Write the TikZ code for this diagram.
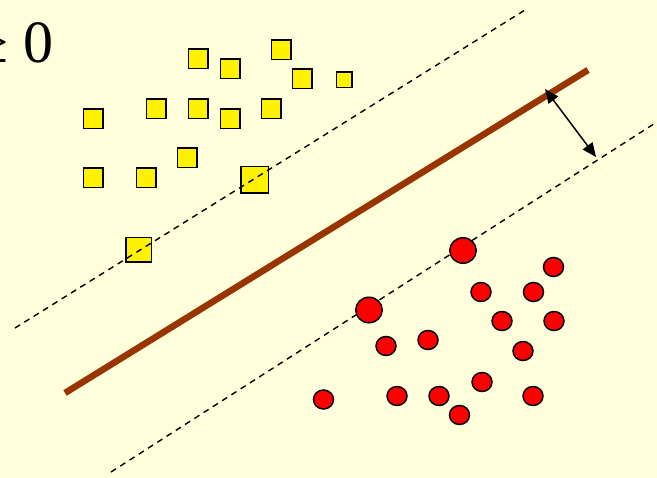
\documentclass[tikz,border=0pt]{standalone}
\usepackage{fontspec}
\setmainfont{Liberation Serif}
\usetikzlibrary{arrows.meta,shapes.geometric}
\definecolor{bg}{HTML}{FFFFDC}
\definecolor{brownline}{HTML}{993300}
\begin{document}
\begin{tikzpicture}[x=1pt,y=-1pt,
  sq/.style={rectangle,draw=black,fill=yellow,line width=1.5pt,inner sep=0pt,minimum size=19.5pt},
  smallsq/.style={sq,minimum size=15.5pt},
  bigsq/.style={sq,minimum width=27.5pt,minimum height=26.5pt},
  dot/.style={ellipse,draw=black,fill=red,line width=1.5pt,inner sep=0pt,minimum width=20pt,minimum height=19pt},
  bigdot/.style={dot,minimum width=26.5pt,minimum height=25.5pt},
  margin/.style={dash pattern=on 6pt off 5pt,line width=1.4pt,black},
  hyper/.style={line width=6.5pt,brownline},
  gap/.style={line width=1.5pt,{Triangle[length=14pt,width=12pt]}-{Triangle[length=14pt,width=12pt]}}]
\useasboundingbox (0,0) rectangle (657,478);
\fill[bg] (0,0) rectangle (657,478);
\clip (0,0) rectangle (657,478);

% text
\node[anchor=base east,inner sep=0pt,font=\fontsize{60}{62}\selectfont] (ineq) at (54,63) {≥ 0};

% coordinates
\coordinate (u1) at (15,328);
\coordinate (u2) at (525,10);
\coordinate (l1) at (111,472);
\coordinate (l2) at (660,120);
\coordinate (h1) at (65,393);
\coordinate (h2) at (588,70);
\coordinate (a1) at (545,89);
\coordinate (a2) at (596,157);

% lower margin (under the circles)
\draw[margin] (l1) -- (l2);
\draw[hyper] (h1) -- (h2);
\draw[gap] (a1) -- (a2);

% squares
\node[sq] (s1) at (198,59) {};
\node[sq] (s2) at (230,69) {};
\node[sq] (s3) at (281,50) {};
\node[sq] (s4) at (302,79) {};
\node[smallsq] (s5) at (344,80) {};
\node[sq] (s6) at (93,119) {};
\node[sq] (s7) at (156,109) {};
\node[sq] (s8) at (198,109) {};
\node[sq] (s9) at (230,119) {};
\node[sq] (s10) at (271,109) {};
\node[sq] (s11) at (187,158) {};
\node[sq] (s12) at (93,178) {};
\node[sq] (s13) at (146,178) {};
\node[bigsq] (s14) at (254.5,180) {};
\node[sq,minimum width=25.5pt,minimum height=24.5pt] (s15) at (138.5,250) {};

% upper margin (over the squares)
\draw[margin] (u1) -- (u2);

% circles
\node[bigdot] (c1) at (463,250.5) {};
\node[dot] (c2) at (553.5,267) {};
\node[dot] (c3) at (481,292) {};
\node[dot] (c4) at (533.5,292) {};
\node[bigdot] (c5) at (369,310) {};
\node[dot] (c6) at (502,321) {};
\node[dot] (c7) at (554,321) {};
\node[dot] (c8) at (428,340) {};
\node[dot] (c9) at (386,346) {};
\node[dot] (c10) at (523,351) {};
\node[dot] (c11) at (482,382) {};
\node[dot] (c12) at (323.5,399.5) {};
\node[dot] (c13) at (397,396) {};
\node[dot] (c14) at (439,396) {};
\node[dot] (c15) at (533,396) {};
\node[dot] (c16) at (459.5,415) {};
\end{tikzpicture}
\end{document}
